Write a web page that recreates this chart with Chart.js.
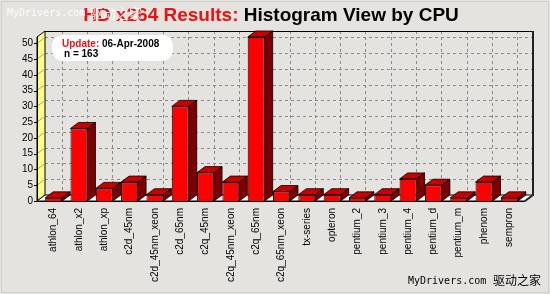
<!DOCTYPE html>
<html>
<head>
<meta charset="utf-8">
<title>HD x264 Results: Histogram View by CPU</title>
<script src="https://cdn.jsdelivr.net/npm/chart.js@4/dist/chart.umd.min.js"></script>
<style>
  html, body { margin: 0; padding: 0; background: #e4e3df; }
  #wrap { width: 550px; height: 294px; }
</style>
</head>
<body>
<div id="wrap"><canvas id="chart" width="550" height="294"></canvas></div>
<script>
// data
const cpus = ['athlon_64', 'athlon_x2', 'athlon_xp', 'c2d_45nm', 'c2d_45nm_xeon',
  'c2d_65nm', 'c2q_45nm', 'c2q_45nm_xeon', 'c2q_65nm', 'c2q_65nm_xeon', 'tx-series',
  'opteron', 'pentium_2', 'pentium_3', 'pentium_4', 'pentium_d', 'pentium_m',
  'phenom', 'sempron'];
const counts = [1, 23, 4, 6, 2, 30, 9, 6, 52, 3, 2, 2, 1, 2, 7, 5, 1, 6, 1];
const yMax = 52;
const yStep = 5;
const updateDate = '06-Apr-2008';
const sampleSize = 163;

// depth of the fake 3d look
const DX = 8, DY = 6;

const threeD = {
  id: 'threeD',
  beforeDraw(chart) {
    const ctx = chart.ctx;
    ctx.save();
    ctx.fillStyle = '#e4e3df';
    ctx.fillRect(0, 0, chart.width, chart.height);
    ctx.strokeStyle = '#cfcec9';
    ctx.lineWidth = 1;
    ctx.strokeRect(1.5, 1.5, chart.width - 3, chart.height - 3);
    ctx.restore();
  },
  beforeDatasetsDraw(chart) {
    const { ctx, chartArea: a, scales: { x, y } } = chart;
    const x0 = a.left - 4, x1 = a.right + 3, top = a.top, bot = a.bottom;
    ctx.save();

    // back wall grid
    ctx.strokeStyle = '#8a8a8a';
    ctx.lineWidth = 1;
    ctx.setLineDash([3, 3]);
    y.ticks.forEach(t => {
      if (t.value === 0) return;
      const py = Math.round(y.getPixelForValue(t.value) - DY) + 0.5;
      ctx.beginPath();
      ctx.moveTo(x0 + DX, py);
      ctx.lineTo(x1 + DX, py);
      ctx.stroke();
    });
    cpus.forEach((c, i) => {
      const px = Math.round(x.getPixelForValue(i) + DX) + 0.5;
      ctx.beginPath();
      ctx.moveTo(px, top - DY);
      ctx.lineTo(px, bot - DY);
      ctx.stroke();
    });
    ctx.setLineDash([]);

    // left yellow wall
    ctx.fillStyle = '#ffff88';
    ctx.strokeStyle = '#000';
    ctx.beginPath();
    ctx.moveTo(x0, bot);
    ctx.lineTo(x0, top);
    ctx.lineTo(x0 + DX, top - DY);
    ctx.lineTo(x0 + DX, bot - DY);
    ctx.closePath();
    ctx.fill();
    ctx.stroke();
    ctx.strokeStyle = '#a8a870';
    y.ticks.forEach(t => {
      const py = y.getPixelForValue(t.value);
      ctx.beginPath();
      ctx.moveTo(x0, py);
      ctx.lineTo(x0 + DX, py - DY);
      ctx.stroke();
    });

    // floor
    ctx.fillStyle = '#ffffff';
    ctx.strokeStyle = '#000';
    ctx.beginPath();
    ctx.moveTo(x0, bot);
    ctx.lineTo(x1, bot);
    ctx.lineTo(x1 + DX, bot - DY);
    ctx.lineTo(x0 + DX, bot - DY);
    ctx.closePath();
    ctx.fill();
    ctx.stroke();

    // back frame
    ctx.lineWidth = 1;
    ctx.beginPath();
    ctx.moveTo(x0 + DX, top - DY + 0.5);
    ctx.lineTo(x1 + DX, top - DY + 0.5);
    ctx.stroke();
    ctx.lineWidth = 2;
    ctx.strokeStyle = '#222';
    ctx.beginPath();
    ctx.moveTo(x1 + DX, top - DY);
    ctx.lineTo(x1 + DX, bot - DY);
    ctx.lineTo(x1, bot);
    ctx.stroke();

    // front axis + ticks
    ctx.lineWidth = 1;
    ctx.strokeStyle = '#000';
    ctx.beginPath();
    ctx.moveTo(x0 + 0.5, top);
    ctx.lineTo(x0 + 0.5, bot + 0.5);
    ctx.lineTo(x1, bot + 0.5);
    ctx.stroke();
    y.ticks.forEach(t => {
      const py = Math.round(y.getPixelForValue(t.value)) + 0.5;
      ctx.beginPath();
      ctx.moveTo(x0 - 3, py);
      ctx.lineTo(x0, py);
      ctx.stroke();
    });
    ctx.restore();
  },
  afterDatasetsDraw(chart) {
    const ctx = chart.ctx;
    const meta = chart.getDatasetMeta(0);
    ctx.save();
    ctx.strokeStyle = '#000';
    ctx.lineWidth = 0.8;
    meta.data.forEach(bar => {
      const p = bar.getProps(['x', 'y', 'base', 'width'], true);
      const l = p.x - p.width / 2, r = p.x + p.width / 2;
      const t = Math.min(p.y, p.base), b = Math.max(p.y, p.base);
      // top face
      ctx.fillStyle = '#c80000';
      ctx.beginPath();
      ctx.moveTo(l, t);
      ctx.lineTo(l + DX, t - DY);
      ctx.lineTo(r + DX, t - DY);
      ctx.lineTo(r, t);
      ctx.closePath();
      ctx.fill();
      ctx.stroke();
      // side face
      ctx.fillStyle = '#7c0000';
      ctx.beginPath();
      ctx.moveTo(r, t);
      ctx.lineTo(r + DX, t - DY);
      ctx.lineTo(r + DX, b - DY);
      ctx.lineTo(r, b);
      ctx.closePath();
      ctx.fill();
      ctx.stroke();
    });
    ctx.restore();
  },
  afterDraw(chart) {
    const ctx = chart.ctx;
    ctx.save();

    // title in two colours
    ctx.font = 'bold 19px "Liberation Sans", Arial, sans-serif';
    ctx.textBaseline = 'alphabetic';
    const red = 'HD x264 Results: ';
    const black = 'Histogram View by CPU';
    const wr = ctx.measureText(red).width, wb = ctx.measureText(black).width;
    let tx = 271 - (wr + wb) / 2;
    ctx.fillStyle = '#ee1111';
    ctx.fillText(red, tx, 21);
    ctx.fillStyle = '#000';
    ctx.fillText(black, tx + wr, 21);

    // update box
    ctx.fillStyle = '#ffffff';
    ctx.beginPath();
    ctx.roundRect(52, 35, 121, 26, 11);
    ctx.fill();
    ctx.font = 'bold 10px "Liberation Sans", Arial, sans-serif';
    ctx.fillStyle = '#ee1111';
    ctx.fillText('Update:', 62, 47);
    const wu = ctx.measureText('Update: ').width;
    ctx.fillStyle = '#000';
    ctx.fillText(updateDate, 62 + wu, 47);
    ctx.fillText('n = ' + sampleSize, 64, 57);

    // watermarks
    ctx.font = '10px "DejaVu Sans Mono", monospace';
    ctx.fillStyle = 'rgba(255,255,255,0.9)';
    ctx.fillText('MyDrivers.com', 7, 16);
    ctx.font = '13px "Noto Sans CJK SC", sans-serif';
    ctx.fillText('驱动之家', 90, 18);
    ctx.font = '10px "DejaVu Sans Mono", monospace';
    ctx.fillStyle = '#000';
    ctx.fillText('MyDrivers.com', 408, 284);
    ctx.font = '12px "Noto Sans CJK SC", sans-serif';
    ctx.fillText('驱动之家', 493, 285);
    ctx.restore();
  }
};

new Chart(document.getElementById('chart'), {
  type: 'bar',
  data: {
    labels: cpus,
    datasets: [{
      data: counts,
      backgroundColor: '#ff0000',
      borderColor: '#000',
      borderWidth: 1,
      barPercentage: 0.67,
      categoryPercentage: 1
    }]
  },
  options: {
    responsive: false,
    animation: false,
    layout: { padding: { left: 0, right: 28, top: 37, bottom: 0 } },
    plugins: { legend: { display: false }, tooltip: { enabled: false }, title: { display: false } },
    scales: {
      x: {
        grid: { display: false, drawTicks: false },
        border: { display: false },
        ticks: {
          color: '#000',
          font: { family: '"Liberation Sans", Arial, sans-serif', size: 10 },
          minRotation: 90, maxRotation: 90, autoSkip: false, padding: 7
        },
        afterFit(s) { s.height = 93; }
      },
      y: {
        min: 0, max: yMax,
        grid: { display: false, drawTicks: false },
        border: { display: false },
        ticks: {
          stepSize: yStep, includeBounds: false, color: '#000',
          font: { family: '"Liberation Sans", Arial, sans-serif', size: 10 },
          padding: 8
        },
        afterFit(s) { s.width = 41; }
      }
    }
  },
  plugins: [threeD]
});
</script>
</body>
</html>
